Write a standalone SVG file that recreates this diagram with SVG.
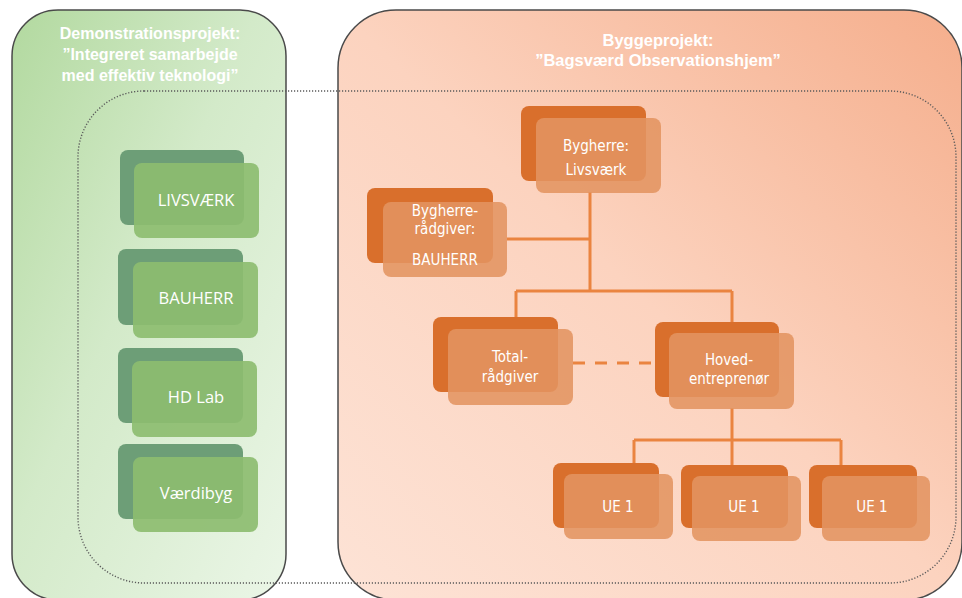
<svg xmlns="http://www.w3.org/2000/svg" width="962" height="598" viewBox="0 0 962 598">
<defs>
<linearGradient id="gGreen" x1="0" y1="0" x2="1" y2="1">
<stop offset="0" stop-color="#b2d99f"/>
<stop offset="0.45" stop-color="#d3eac9"/>
<stop offset="1" stop-color="#ebf6e7"/>
</linearGradient>
<linearGradient id="gOrange" x1="0" y1="1" x2="1" y2="0">
<stop offset="0" stop-color="#fde3d6"/>
<stop offset="0.5" stop-color="#fcd3bf"/>
<stop offset="1" stop-color="#f5ae8c"/>
</linearGradient>
<style>
.panel{stroke:#4a4a4a;stroke-width:1.5}
.dotted{fill:none;stroke:#5a5a5a;stroke-width:1.4;stroke-dasharray:1.2 1.8}
.gb{fill:#6d9e77}
.gf{fill:#8dbd70;opacity:0.92}
.ob{fill:#d96f2c}
.of{fill:#e39461;opacity:0.88}
.title{fill:#ffffff;font-family:"Liberation Sans",Arial,sans-serif;font-weight:bold;text-anchor:middle}
.gt{fill:#ffffff;font-family:"Open Sans","Liberation Sans",sans-serif;font-size:16.5px;text-anchor:middle}
.ot{fill:#ffffff;font-family:"Liberation Sans Narrow","DejaVu Sans Condensed","Liberation Sans",sans-serif;font-size:15px;text-anchor:middle}
.conn{fill:none;stroke:#ea8440;stroke-width:3}
</style>
</defs>
<g id="panel-demo">
<rect class="panel" x="12" y="10" width="274" height="590" rx="46" fill="url(#gGreen)"/>
<text class="title" font-size="16"><tspan x="150" y="39">Demonstrationsprojekt:</tspan><tspan x="150" y="60">”Integreret samarbejde</tspan><tspan x="150" y="81">med effektiv teknologi”</tspan></text>
</g>
<g id="panel-bygge">
<rect class="panel" x="338" y="10" width="624" height="590" rx="58" fill="url(#gOrange)"/>
<text class="title" font-size="16.5"><tspan x="658" y="46">Byggeprojekt:</tspan><tspan x="658" y="66">”Bagsværd Observationshjem”</tspan></text>
</g>
<rect id="scope" class="dotted" x="78" y="91" width="878" height="492" rx="66"/>
<g id="connectors">
<path class="conn" d="M590 192V291M507 239H590M516 291H732M516 291V318M732 291V323M732 408V465M634 440H841M634 440V464M841 440V466"/>
<path class="conn" d="M573 363H655" stroke-dasharray="12 10"/>
</g>
<g id="n-livsvaerk">
<rect class="gb" x="120" y="150" width="124" height="75" rx="8"/>
<rect class="gf" x="134" y="163" width="125" height="75" rx="8"/>
<text class="gt" x="196" y="206">LIVSVÆRK</text>
</g>
<g id="n-bauherr">
<rect class="gb" x="118" y="249" width="125" height="76" rx="8"/>
<rect class="gf" x="133" y="262" width="125" height="76" rx="8"/>
<text class="gt" x="196" y="304">BAUHERR</text>
</g>
<g id="n-hdlab">
<rect class="gb" x="118" y="348" width="125" height="75" rx="8"/>
<rect class="gf" x="132" y="361" width="125" height="76" rx="8"/>
<text class="gt" x="196" y="403">HD Lab</text>
</g>
<g id="n-vaerdibyg">
<rect class="gb" x="118" y="444" width="125" height="75" rx="8"/>
<rect class="gf" x="133" y="457" width="125" height="75" rx="8"/>
<text class="gt" x="196" y="499">Værdibyg</text>
</g>
<g id="n-bygherre">
<rect class="ob" x="521" y="106" width="125" height="75" rx="8"/>
<rect class="of" x="536" y="118" width="125" height="75" rx="8"/>
<text class="ot" x="596" y="151">Bygherre:</text>
<text class="ot" x="596" y="175">Livsværk</text>
</g>
<g id="n-bygherreraadgiver">
<rect class="ob" x="367" y="188" width="126" height="75" rx="8"/>
<rect class="of" x="383" y="202" width="124" height="75" rx="8"/>
<text class="ot" x="445" y="216">Bygherre-</text>
<text class="ot" x="445" y="234">rådgiver:</text>
<text class="ot" x="445" y="265">BAUHERR</text>
</g>
<g id="n-totalraadgiver">
<rect class="ob" x="433" y="317" width="125" height="75" rx="8"/>
<rect class="of" x="448" y="329" width="125" height="76" rx="8"/>
<text class="ot" x="510" y="362">Total-</text>
<text class="ot" x="510" y="382">rådgiver</text>
</g>
<g id="n-hovedentreprenoer">
<rect class="ob" x="655" y="322" width="124" height="75" rx="8"/>
<rect class="of" x="669" y="333" width="125" height="76" rx="8"/>
<text class="ot" x="729" y="365">Hoved-</text>
<text class="ot" x="729" y="384">entreprenør</text>
</g>
<g id="n-ue1a">
<rect class="ob" x="553" y="463" width="106" height="65" rx="8"/>
<rect class="of" x="564" y="474" width="109" height="65" rx="8"/>
<text class="ot" x="618" y="512">UE 1</text>
</g>
<g id="n-ue1b">
<rect class="ob" x="681" y="465" width="107" height="63" rx="8"/>
<rect class="of" x="692" y="476" width="109" height="65" rx="8"/>
<text class="ot" x="744" y="512">UE 1</text>
</g>
<g id="n-ue1c">
<rect class="ob" x="809" y="465" width="108" height="63" rx="8"/>
<rect class="of" x="822" y="476" width="108" height="65" rx="8"/>
<text class="ot" x="872" y="512">UE 1</text>
</g>
</svg>
